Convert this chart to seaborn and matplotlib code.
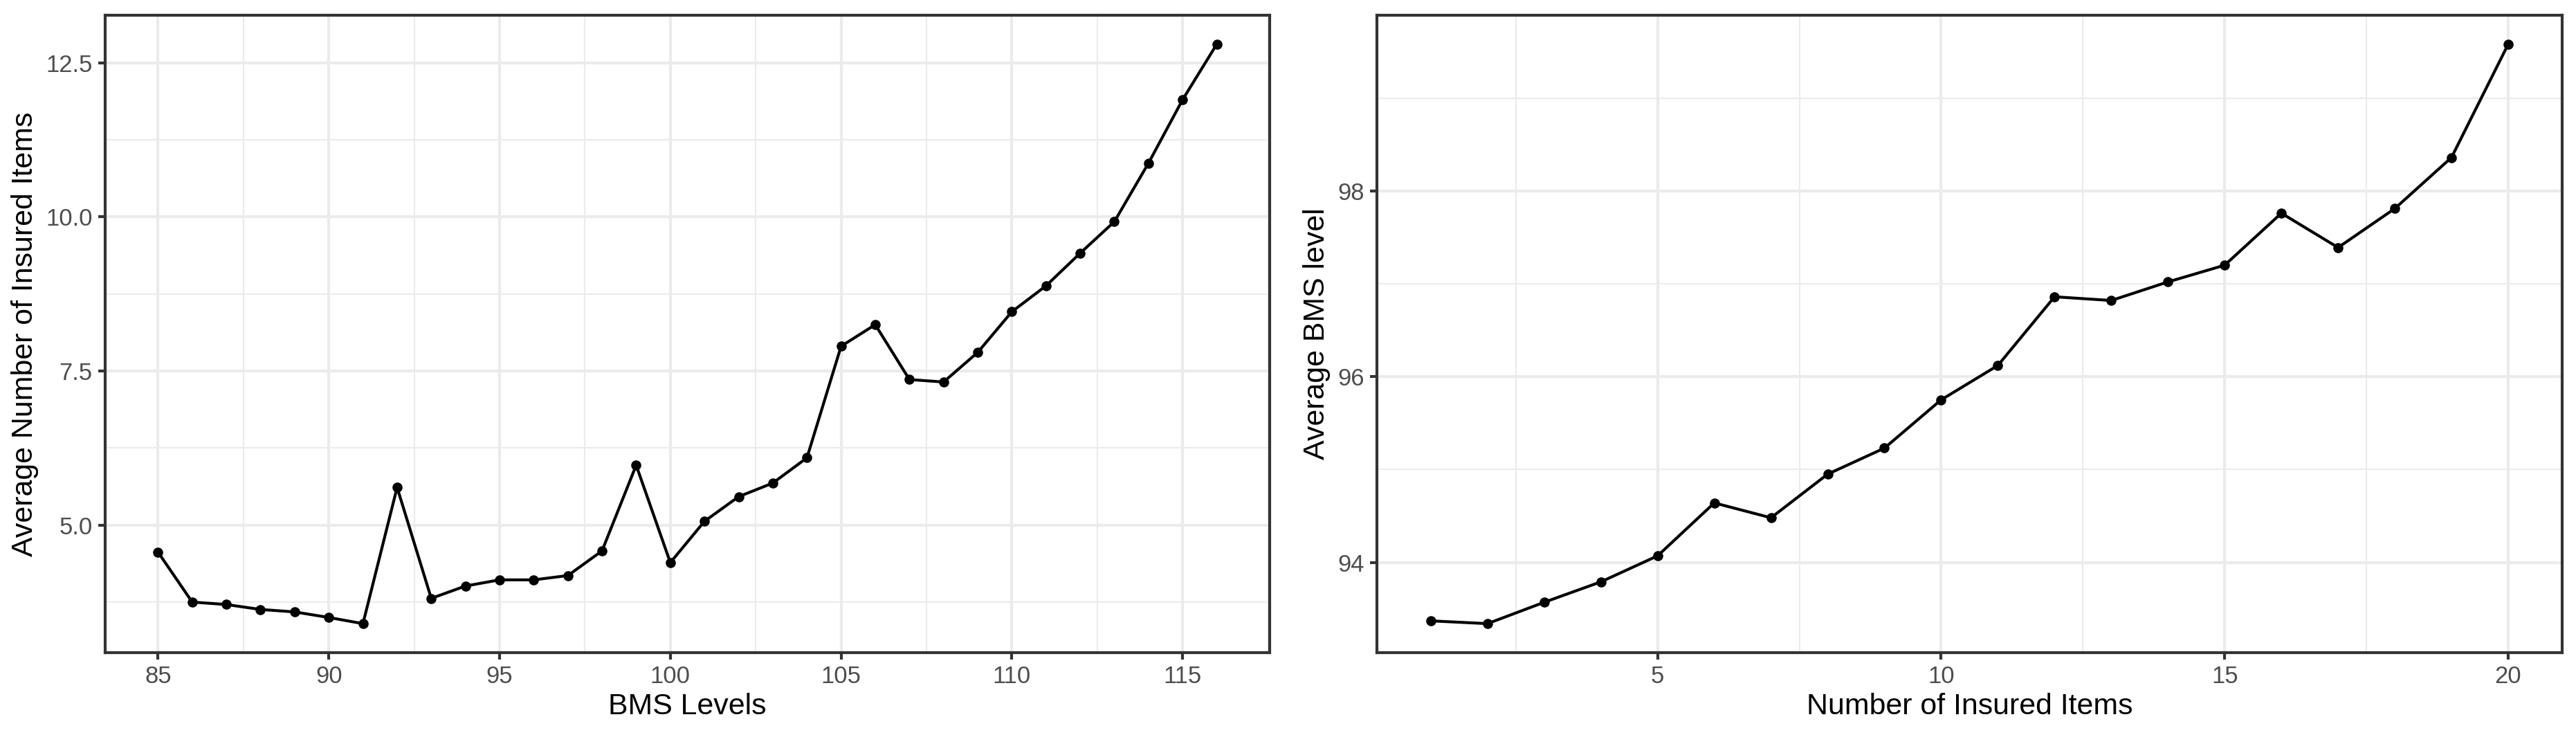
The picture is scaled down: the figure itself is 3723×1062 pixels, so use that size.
import matplotlib.pyplot as plt
import matplotlib.ticker as mticker
import pandas as pd
import seaborn as sns

sns.set_theme(style="ticks")
plt.rcParams['font.family'] = ['Liberation Sans', 'DejaVu Sans']

# left panel: average number of insured items per BMS level
bms_levels = list(range(85, 117))
avg_items = [4.56, 3.75, 3.71, 3.63, 3.59, 3.50, 3.40, 5.61, 3.81, 4.01, 4.11,
             4.11, 4.18, 4.58, 5.97, 4.39, 5.06, 5.46, 5.68, 6.09, 7.90, 8.25,
             7.36, 7.32, 7.80, 8.46, 8.88, 9.41, 9.92, 10.87, 11.90, 12.80]

# right panel: average BMS level per number of insured items
n_items = list(range(1, 21))
avg_bms = [93.37, 93.34, 93.57, 93.79, 94.07, 94.64, 94.48, 94.95, 95.23, 95.75,
           96.12, 96.86, 96.82, 97.02, 97.20, 97.76, 97.39, 97.81, 98.36, 99.58]

df_left = pd.DataFrame({'bms': bms_levels, 'items': avg_items})
df_right = pd.DataFrame({'n': n_items, 'bms': avg_bms})

grid_major = '#EBEBEB'
border = '#333333'
title_size = 10.3
tick_size = 8.3

fig = plt.figure(figsize=(3723 / 300, 1062 / 300), dpi=300)
ax1 = fig.add_axes([0.0408, 0.1121, 0.4521, 0.8672])
ax2 = fig.add_axes([0.5345, 0.1121, 0.4601, 0.8672])


def style_ax(ax, xmaj, xmin, ymaj, ymin):
    ax.set_axisbelow(True)
    ax.xaxis.set_major_locator(mticker.MultipleLocator(xmaj))
    ax.xaxis.set_minor_locator(mticker.MultipleLocator(xmin))
    ax.yaxis.set_major_locator(mticker.MultipleLocator(ymaj))
    ax.yaxis.set_minor_locator(mticker.MultipleLocator(ymin))
    ax.grid(which='major', color=grid_major, linewidth=1.0)
    ax.grid(which='minor', color=grid_major, linewidth=0.5)
    for s in ax.spines.values():
        s.set_visible(True)
        s.set_color(border)
        s.set_linewidth(1.0)
    ax.tick_params(which='major', length=2.4, width=1.0, color=border,
                   labelsize=tick_size, labelcolor='#4D4D4D', pad=2.0)
    ax.tick_params(which='minor', length=0)
    ax.margins(x=0.05, y=0.05)


sns.lineplot(data=df_left, x='bms', y='items', ax=ax1, color='black',
             linewidth=1.0, marker='o', markersize=3.5, markeredgewidth=0)
style_ax(ax1, 5, 2.5, 2.5, 1.25)
ax1.yaxis.set_major_formatter(mticker.FormatStrFormatter('%.1f'))
ax1.set_xlabel('BMS Levels', fontsize=title_size, color='black', labelpad=1.5)
ax1.set_ylabel('Average Number of Insured Items', fontsize=title_size,
               color='black', labelpad=2.5)

sns.lineplot(data=df_right, x='n', y='bms', ax=ax2, color='black',
             linewidth=1.0, marker='o', markersize=3.5, markeredgewidth=0)
style_ax(ax2, 5, 2.5, 2, 1)
ax2.set_xlabel('Number of Insured Items', fontsize=title_size, color='black',
               labelpad=1.5)
ax2.set_ylabel('Average BMS level', fontsize=title_size, color='black',
               labelpad=2.5)

fig.savefig('out.png', dpi=300, facecolor='white')
